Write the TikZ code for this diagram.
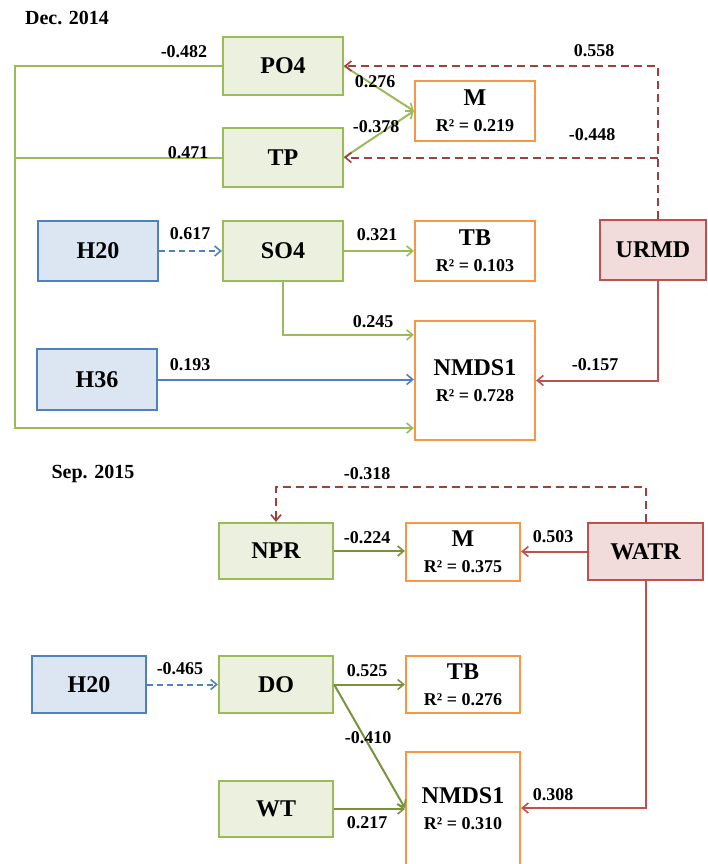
\documentclass[tikz,border=0pt]{standalone}
\usepackage{fontspec}
\setmainfont{Liberation Serif}
\usetikzlibrary{arrows.meta,calc}
\definecolor{gfill}{HTML}{EBF1DE}
\definecolor{gdraw}{HTML}{9BBB59}
\definecolor{gdark}{HTML}{77933C}
\definecolor{bfill}{HTML}{DCE6F2}
\definecolor{bdraw}{HTML}{4F81BD}
\definecolor{rfill}{HTML}{F2DCDB}
\definecolor{rdraw}{HTML}{C0504D}
\definecolor{rdash}{HTML}{A0403C}
\definecolor{odraw}{HTML}{F79646}
\newcommand\twolab[2]{{\fontsize{24}{26}\selectfont #1}\\[0pt]{\fontsize{18}{20}\selectfont R² = #2}}
\tikzset{
  box/.style={draw,line width=2.2pt,minimum width=120pt,minimum height=60pt,inner sep=0pt,font=\bfseries\fontsize{24}{26}\selectfont,align=center},
  gbox/.style={box,fill=gfill,draw=gdraw},
  bbox/.style={box,fill=bfill,draw=bdraw},
  rbox/.style={box,fill=rfill,draw=rdraw},
  obox/.style={box,fill=white,draw=odraw},
  lab/.style={inner sep=0pt,font=\bfseries\fontsize{18}{20}\selectfont},
  ttl/.style={inner sep=0pt,font=\bfseries\fontsize{20}{22}\selectfont},
  tip/.style={-{Straight Barb[length=6pt,width=10pt,line width=1.6pt]}},
  gl/.style={draw=gdraw,line width=2pt},
  gd/.style={draw=gdark,line width=2pt},
  rl/.style={draw=rdraw,line width=2pt},
  rd/.style={draw=rdash,line width=2pt,dash pattern=on 8pt off 5pt},
  bl/.style={draw=bdraw,line width=2pt},
  bd/.style={draw=bdraw,line width=2pt,dash pattern=on 6pt off 4pt},
}
\begin{document}
\begin{tikzpicture}[x=1pt,y=-1pt]
\useasboundingbox (0,0) rectangle (708,864);
% ---------- Dec. 2014 ----------
\node[ttl] (t1) at (67,18) {Dec. 2014};
\node[gbox,minimum height=58pt] (po4) at (283,66) {PO4};
\node[gbox,minimum height=59pt] (tp) at (283,157.5) {TP};
\node[obox] (mA) at (475,111) {\twolab{M}{0.219}};
\node[bbox] (h20A) at (98,251) {H20};
\node[gbox] (so4) at (283,251) {SO4};
\node[obox] (tbA) at (475,251) {\twolab{TB}{0.103}};
\node[rbox,minimum width=106pt] (urmd) at (653,250) {URMD};
\node[bbox,minimum height=61pt] (h36) at (97,379.5) {H36};
\node[obox,minimum height=119pt] (nmdsA) at (475,380.5) {\twolab{NMDS1}{0.728}};
\coordinate (lft) at (15,0);
\coordinate (ux) at ($(urmd.north west)+(59,0)$);
\coordinate (uxs) at ($(urmd.south west)+(59,0)$);
% connectors
\draw[gl,tip] (po4.west) -- (po4.west -| lft) |- ($(nmdsA.south west)+(0,-13)$);
\draw[gl] (tp.west) -- (tp.west -| lft);
\draw[gl,tip] (po4.east) -- (mA.west);
\draw[gl,tip] (tp.east) -- (mA.west);
\draw[rd,tip] (ux) |- (po4.east);
\draw[rd,tip] (ux |- tp.east) -- (tp.east);
\draw[rl,tip] (uxs) |- (nmdsA.east);
\draw[bd,tip] (h20A.east) -- (so4.west);
\draw[gl,tip] (so4.east) -- (tbA.west);
\draw[gl,tip] (so4.south) |- ($(nmdsA.north west)+(0,15)$);
\draw[bl,tip] (h36.east) -- (h36.east -| nmdsA.west);
% labels
\node[lab] (l1) at (184,52) {-0.482};
\node[lab] (l2) at (188,153) {0.471};
\node[lab] (l3) at (375,82) {0.276};
\node[lab] (l4) at (376,127) {-0.378};
\node[lab] (l5) at (594,51) {0.558};
\node[lab] (l6) at (592,135) {-0.448};
\node[lab] (l7) at (190,234) {0.617};
\node[lab] (l8) at (377,235) {0.321};
\node[lab] (l9) at (373,322) {0.245};
\node[lab] (l10) at (190,365) {0.193};
\node[lab] (l11) at (595,365) {-0.157};
% ---------- Sep. 2015 ----------
\node[ttl] (t2) at (93,474) {Sep. 2015};
\node[gbox,minimum width=114pt,minimum height=56pt] (npr) at (276,551) {NPR};
\node[obox,minimum width=114pt,minimum height=58pt] (mB) at (463,552) {\twolab{M}{0.375}};
\node[rbox,minimum width=115pt,minimum height=57pt] (watr) at (645.5,551.5) {WATR};
\node[bbox,minimum width=114pt,minimum height=57pt] (h20B) at (89,684.5) {H20};
\node[gbox,minimum width=114pt,minimum height=57pt] (do) at (276,684.5) {DO};
\node[obox,minimum width=114pt,minimum height=57pt] (tbB) at (463,684.5) {\twolab{TB}{0.276}};
\node[gbox,minimum width=114pt,minimum height=56pt] (wt) at (276,809) {WT};
\node[obox,minimum width=114pt,minimum height=114pt] (nmdsB) at (463,809) {\twolab{NMDS1}{0.310}};
\draw[rd,tip] (watr.north) -- ++(0,-35) -| (npr.north);
\draw[gd,tip] (npr.east) -- (npr.east -| mB.west);
\draw[rl,tip] (watr.west) -- (watr.west -| mB.east);
\draw[rl,tip] (watr.south) |- ($(nmdsB.east)+(0,-1)$);
\draw[bd,tip] (h20B.east) -- (do.west);
\draw[gd,tip] (do.east) -- (tbB.west);
\draw[gd,tip] (do.east) -- ($(nmdsB.west)+(0,-1)$);
\draw[gd,tip] (wt.east) -- (wt.east -| nmdsB.west);
\node[lab] (m1) at (367,474) {-0.318};
\node[lab] (m2) at (367,538) {-0.224};
\node[lab] (m3) at (553,537) {0.503};
\node[lab] (m4) at (180,669) {-0.465};
\node[lab] (m5) at (367,671) {0.525};
\node[lab] (m6) at (368,738) {-0.410};
\node[lab] (m7) at (367,823) {0.217};
\node[lab] (m8) at (553,795) {0.308};
\end{tikzpicture}
\end{document}
